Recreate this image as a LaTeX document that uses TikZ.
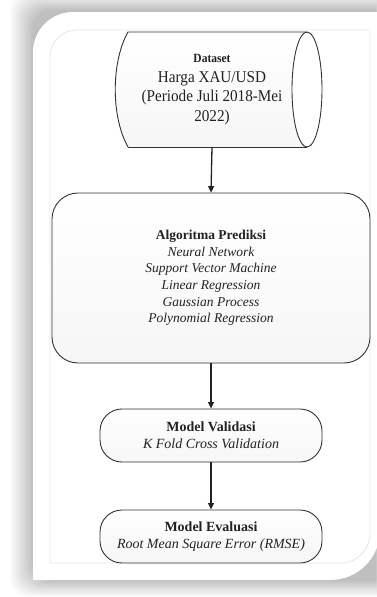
\documentclass[tikz,border=0pt]{standalone}
\usepackage{fontspec}
\setmainfont{Liberation Serif}
\newfontfamily\dsfont[FakeStretch=0.92]{Liberation Serif}
\usetikzlibrary{arrows.meta}
\definecolor{ink}{HTML}{222222}
\definecolor{edge}{HTML}{333333}
\definecolor{frameline}{HTML}{E6E6E6}
\tikzset{
  box/.style={draw=edge, line width=0.9pt, rounded corners=#1, top color=white, bottom color=gray!7,
              text=ink, align=center, inner sep=0pt},
  box/.default=22pt,
  conn/.style={draw=ink, line width=1.3pt, -{Triangle[length=6.5pt,width=6pt]}}
}
\begin{document}
\begin{tikzpicture}[x=1pt,y=-1pt]
\useasboundingbox (0,0) rectangle (376,597);
\fill[white] (0,0) rectangle (376,597);
% soft shadow around card
\foreach \i in {0,...,15} {
  \fill[black, opacity=0.016, rounded corners=20pt] (10+1.5*\i, -8+1.2*\i) rectangle (430, 597-1.1*\i);
}
% card
\fill[white] (33,580) -- (33,52) .. controls (33,30) and (51,12) .. (73,12) -- (380,12) -- (380,530)
  .. controls (380,558) and (358,580) .. (330,580) -- cycle;
% inner light frame
\draw[frameline, line width=0.8pt] (50,563) -- (50,57) .. controls (50,42) and (62,30) .. (77,30) -- (370,30) -- (370,533)
  .. controls (370,550) and (357,563) .. (340,563) -- cycle;

% dataset stored-data shape
\path[top color=white, bottom color=gray!7] (128,32) -- (307,32) -- (307,147) -- (128,147)
  .. controls (111,117) and (111,62) .. (128,32) -- cycle;
\fill[white] (307,89.5) ellipse [x radius=15, y radius=57.5];
\draw[edge, line width=0.9pt] (128,147) .. controls (111,117) and (111,62) .. (128,32) -- (307,32);
\draw[edge, line width=0.9pt] (128,147) -- (307,147);
\draw[edge, line width=0.9pt] (307,89.5) ellipse [x radius=15, y radius=57.5];
\node[align=center, text=ink, minimum height=115pt, inner sep=0pt,
      font=\dsfont\fontsize{16.5}{19.5}\selectfont] (data) at (212,89.5)
  {{\fontsize{12.5}{15}\selectfont\bfseries Dataset}\\[0.5pt]Harga XAU/USD\\(Periode Juli 2018-Mei\\2022)};

% algorithm box
\node[box=26pt, minimum width=318pt, minimum height=170pt, font=\fontsize{13.5}{16.6}\selectfont\itshape]
  (alg) at (211,278)
  {{\bfseries\upshape Algoritma Prediksi}\\Neural Network\\Support Vector Machine\\Linear Regression\\Gaussian Process\\Polynomial Regression};

% validation box
\node[box, minimum width=222pt, minimum height=53pt, font=\fontsize{14}{17}\selectfont\itshape]
  (val) at (211,435.5)
  {{\bfseries\upshape Model Validasi}\\K Fold Cross Validation};

% evaluation box
\node[box, minimum width=222pt, minimum height=53pt, font=\fontsize{14}{17}\selectfont\itshape]
  (eva) at (211,536.5)
  {{\bfseries\upshape Model Evaluasi}\\Root Mean Square Error (RMSE)};

% connectors
\draw[conn] (data.south) -- (alg.north);
\draw[conn] (alg.south) -- (val.north);
\draw[conn] (val.south) -- (eva.north);
\end{tikzpicture}
\end{document}
